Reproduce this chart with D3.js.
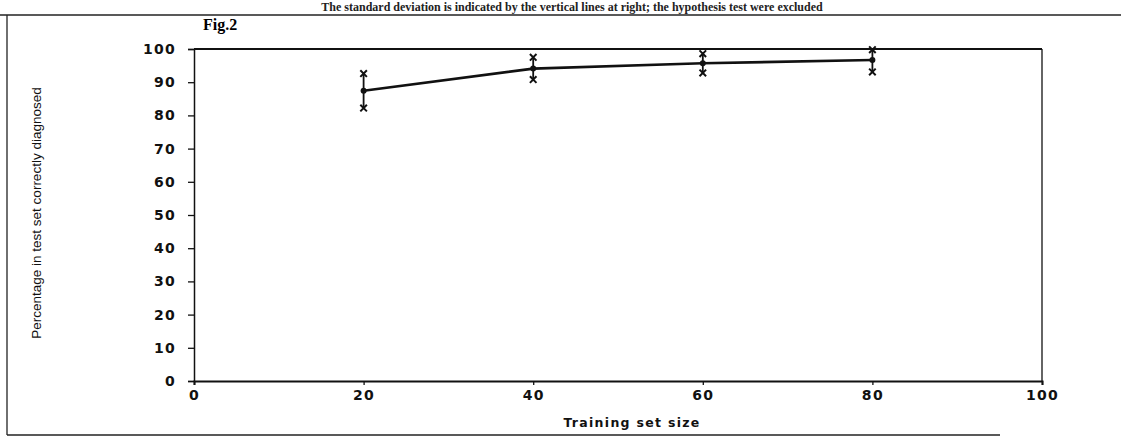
<!DOCTYPE html>
<html><head><meta charset="utf-8">
<script src="https://cdn.jsdelivr.net/npm/d3@7"></script>
<style>body{margin:0;background:#fff}svg{display:block}</style>
</head><body>
<svg id="c" width="1121" height="437"></svg>
<script>
const sizes = [20, 40, 60, 80];
const meanPct = [87.4, 94.1, 95.7, 96.7];
const upperPct = [92.6, 97.5, 98.6, 99.8];
const lowerPct = [82.2, 90.8, 92.8, 93.1];
const xTicks = [0, 20, 40, 60, 80, 100];
const yTicks = [0, 10, 20, 30, 40, 50, 60, 70, 80, 90, 100];

const svg = d3.select("#c");
const x = d3.scaleLinear().domain([0, 100]).range([194, 1042]);
const y = d3.scaleLinear().domain([0, 100]).range([381, 49]);

// outer frame
svg.append("line").attr("x1",0).attr("x2",1121).attr("y1",15).attr("y2",15).attr("stroke","#222").attr("stroke-width",1.3);
svg.append("line").attr("x1",7).attr("x2",7).attr("y1",15).attr("y2",435).attr("stroke","#222").attr("stroke-width",1.3);
svg.append("line").attr("x1",7).attr("x2",1000).attr("y1",435).attr("y2",435).attr("stroke","#222").attr("stroke-width",1.3);

// header text (partly cut in the scan)
svg.append("text").attr("x",572).attr("y",11).attr("text-anchor","middle")
  .attr("font-family","Liberation Serif").attr("font-weight","bold").attr("font-size",12)
  .attr("fill","#222")
  .text("The standard deviation is indicated by the vertical lines at right; the hypothesis test were excluded");

svg.append("text").attr("x",203).attr("y",30)
  .attr("font-family","Liberation Serif").attr("font-weight","bold").attr("font-size",16)
  .text("Fig.2");

const tickFont = "DejaVu Sans";
// y axis
const yAxis = svg.append("g").attr("transform",`translate(${x(0)},0)`)
  .call(d3.axisLeft(y).tickValues(yTicks).tickSize(6).tickPadding(12));
yAxis.select(".domain").attr("stroke","#111").attr("stroke-width",1.5);
yAxis.selectAll("line").attr("stroke","#111").attr("stroke-width",1.3);
yAxis.selectAll("text").attr("font-family",tickFont).attr("font-weight","bold")
  .attr("font-size",14).attr("fill","#111").attr("letter-spacing","1.3px");

// x axis
const xAxis = svg.append("g").attr("transform",`translate(0,${y(0)})`)
  .call(d3.axisBottom(x).tickValues(xTicks).tickSize(4).tickPadding(5));
xAxis.select(".domain").attr("stroke","#111").attr("stroke-width",2);
xAxis.selectAll("line").attr("stroke","#111").attr("stroke-width",1.3);
xAxis.selectAll("text").attr("font-family",tickFont).attr("font-weight","bold")
  .attr("font-size",14).attr("fill","#111").attr("letter-spacing","1.3px");

// top and right of plot box
svg.append("line").attr("x1",x(0)).attr("x2",x(100)).attr("y1",y(100)).attr("y2",y(100)).attr("stroke","#111").attr("stroke-width",2);
svg.append("line").attr("x1",x(100)).attr("x2",x(100)).attr("y1",y(100)).attr("y2",y(0)).attr("stroke","#111").attr("stroke-width",1.3);

// axis titles
svg.append("text").attr("transform",`translate(41,${(y(0)+y(100))/2 - 2}) rotate(-90)`)
  .attr("text-anchor","middle").attr("font-family","Liberation Sans Narrow, Liberation Sans")
  .attr("font-size",13.5).attr("fill","#111").text("Percentage in test set correctly diagnosed");
svg.append("text").attr("x",(x(0)+x(100))/2 + 14).attr("y",427).attr("text-anchor","middle")
  .attr("font-family",tickFont).attr("font-weight","bold").attr("font-size",12.5)
  .attr("letter-spacing","1.3px").attr("fill","#111").text("Training set size");

// error bars
const data = sizes.map((s,i)=>({s, m: meanPct[i], u: upperPct[i], l: lowerPct[i]}));
svg.append("g").selectAll("line").data(data).join("line")
  .attr("x1",d=>x(d.s)).attr("x2",d=>x(d.s)).attr("y1",d=>y(d.u)).attr("y2",d=>y(d.l))
  .attr("stroke","#111").attr("stroke-width",1.8);
const cross = d3.symbol().type(d3.symbolX).size(30);
const ends = data.flatMap(d=>[{s:d.s,v:d.u},{s:d.s,v:d.l}]);
svg.append("g").selectAll("path").data(ends).join("path")
  .attr("d",cross).attr("transform",d=>`translate(${x(d.s)},${y(d.v)})`)
  .attr("stroke","#111").attr("stroke-width",2).attr("fill","none");

// mean line
svg.append("path").datum(data)
  .attr("d", d3.line().x(d=>x(d.s)).y(d=>y(d.m)))
  .attr("fill","none").attr("stroke","#111").attr("stroke-width",2.6);
svg.append("g").selectAll("circle").data(data).join("circle")
  .attr("cx",d=>x(d.s)).attr("cy",d=>y(d.m)).attr("r",3).attr("fill","#111");
</script>
</body></html>
